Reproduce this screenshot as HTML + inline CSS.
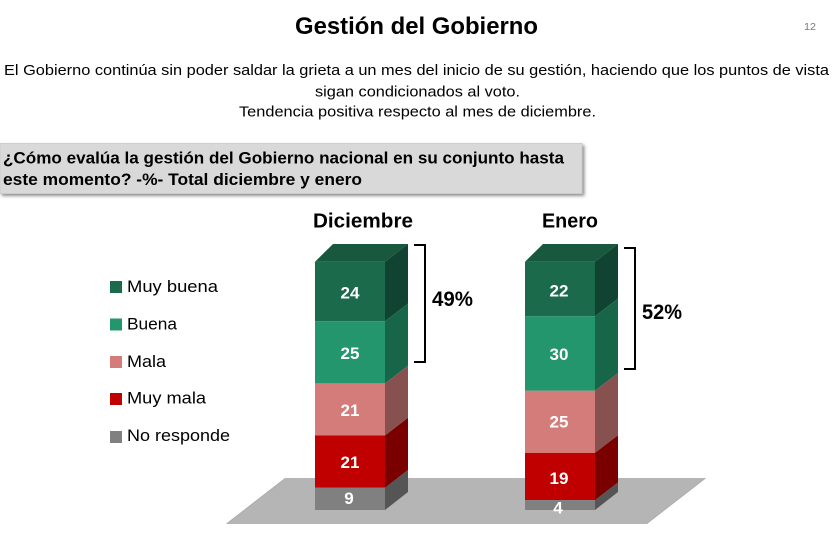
<!DOCTYPE html>
<html>
<head>
<meta charset="utf-8">
<style>
html,body{margin:0;padding:0;background:#fff;}
svg{display:block;}
text{font-family:"Liberation Sans",Arial,sans-serif;}
</style>
</head>
<body>
<svg width="832" height="545" viewBox="0 0 832 545" xmlns="http://www.w3.org/2000/svg">
  <defs>
    <filter id="sh" x="-5%" y="-20%" width="115%" height="160%">
      <feDropShadow dx="2" dy="2" stdDeviation="1.5" flood-color="#000" flood-opacity="0.45"/>
    </filter>
  </defs>

  <!-- Title -->
  <text x="295" y="34" font-size="24" font-weight="bold" fill="#000" textLength="243" lengthAdjust="spacingAndGlyphs">Gestión del Gobierno</text>
  <text x="804" y="30" font-size="10.5" fill="#777" textLength="12" lengthAdjust="spacingAndGlyphs">12</text>

  <!-- Subtitle -->
  <text x="4" y="75" font-size="15" fill="#000" textLength="825" lengthAdjust="spacingAndGlyphs">El Gobierno continúa sin poder saldar la grieta a un mes del inicio de su gestión, haciendo que los puntos de vista</text>
  <text x="315" y="96.5" font-size="15" fill="#000" textLength="205" lengthAdjust="spacingAndGlyphs">sigan condicionados al voto.</text>
  <text x="239" y="116.5" font-size="15" fill="#000" textLength="357" lengthAdjust="spacingAndGlyphs">Tendencia positiva respecto al mes de diciembre.</text>

  <!-- Question box -->
  <rect x="0" y="143.5" width="582" height="50" fill="#d9d9d9" stroke="#c8c8c8" stroke-width="0.8" filter="url(#sh)"/>
  <text x="3" y="163.5" font-size="17" font-weight="bold" fill="#000" textLength="561" lengthAdjust="spacingAndGlyphs">¿Cómo evalúa la gestión del Gobierno nacional en su conjunto hasta</text>
  <text x="3" y="185" font-size="17" font-weight="bold" fill="#000" textLength="359" lengthAdjust="spacingAndGlyphs">este momento? -%- Total diciembre y enero</text>

  <!-- Legend -->
  <rect x="110" y="281" width="12" height="12" fill="#1b6a4b"/>
  <text x="127" y="292" font-size="17" fill="#000" textLength="91" lengthAdjust="spacingAndGlyphs">Muy buena</text>
  <rect x="110" y="318.5" width="12" height="12" fill="#24966d"/>
  <text x="127" y="329.5" font-size="17" fill="#000" textLength="50" lengthAdjust="spacingAndGlyphs">Buena</text>
  <rect x="110" y="356" width="12" height="12" fill="#d47c79"/>
  <text x="127" y="367" font-size="17" fill="#000" textLength="39" lengthAdjust="spacingAndGlyphs">Mala</text>
  <rect x="110" y="393" width="12" height="12" fill="#c00000"/>
  <text x="127" y="403.5" font-size="17" fill="#000" textLength="79" lengthAdjust="spacingAndGlyphs">Muy mala</text>
  <rect x="110" y="431" width="12" height="12" fill="#808080"/>
  <text x="127" y="441" font-size="17" fill="#000" textLength="103" lengthAdjust="spacingAndGlyphs">No responde</text>

  <!-- Floor -->
  <polygon points="285,478.5 705,478.5 647,523.5 227,523.5" fill="#b5b5b5" stroke="#a9a9a9" stroke-width="0.8"/>

  <!-- Column headers -->
  <text x="313" y="227.5" font-size="20" font-weight="bold" fill="#000" textLength="100" lengthAdjust="spacingAndGlyphs">Diciembre</text>
  <text x="542" y="227.5" font-size="20" font-weight="bold" fill="#000" textLength="56" lengthAdjust="spacingAndGlyphs">Enero</text>

  <!-- Diciembre bar -->
  <g>
    <!-- top face -->
    <polygon points="315,261.7 385,261.7 408,244 333,244" fill="#17583f"/>
    <!-- Muy buena -->
    <rect x="315" y="261.7" width="70" height="59.6" fill="#1b6a4b"/>
    <polygon points="385,261.7 408,244 408,303.6 385,321.3" fill="#104331"/>
    <!-- Buena -->
    <rect x="315" y="321.3" width="70" height="62.1" fill="#24966d"/>
    <polygon points="385,321.3 408,303.6 408,365.7 385,383.4" fill="#17664a"/>
    <!-- Mala -->
    <rect x="315" y="383.4" width="70" height="52.1" fill="#d47c79"/>
    <polygon points="385,383.4 408,365.7 408,417.8 385,435.5" fill="#87514f"/>
    <!-- Muy mala -->
    <rect x="315" y="435.5" width="70" height="52.2" fill="#c00000"/>
    <polygon points="385,435.5 408,417.8 408,470 385,487.7" fill="#7a0000"/>
    <!-- No responde -->
    <rect x="315" y="487.7" width="70" height="22.3" fill="#808080"/>
    <polygon points="385,487.7 408,470 408,492 385,510" fill="#555555"/>

    <g font-size="17" font-weight="bold" fill="#fff" text-anchor="middle">
      <text x="350" y="298.5">24</text>
      <text x="350" y="359">25</text>
      <text x="350" y="416">21</text>
      <text x="350" y="468">21</text>
      <text x="349" y="504">9</text>
    </g>
  </g>

  <!-- Enero bar -->
  <g>
    <polygon points="525,261.7 595,261.7 618,244 543,244" fill="#17583f"/>
    <rect x="525" y="261.7" width="70" height="54.6" fill="#1b6a4b"/>
    <polygon points="595,261.7 618,244 618,298.6 595,316.3" fill="#104331"/>
    <rect x="525" y="316.3" width="70" height="74.5" fill="#24966d"/>
    <polygon points="595,316.3 618,298.6 618,373.1 595,390.8" fill="#17664a"/>
    <rect x="525" y="390.8" width="70" height="62.1" fill="#d47c79"/>
    <polygon points="595,390.8 618,373.1 618,435.2 595,452.9" fill="#87514f"/>
    <rect x="525" y="452.9" width="70" height="47.2" fill="#c00000"/>
    <polygon points="595,452.9 618,435.2 618,482.4 595,500.1" fill="#7a0000"/>
    <rect x="525" y="500.1" width="70" height="9.9" fill="#808080"/>
    <polygon points="595,500.1 618,482.4 618,492 595,510" fill="#555555"/>

    <g font-size="17" font-weight="bold" fill="#fff" text-anchor="middle">
      <text x="559" y="296.5">22</text>
      <text x="559" y="360">30</text>
      <text x="559" y="427.5">25</text>
      <text x="559" y="484">19</text>
      <text x="558" y="513.5">4</text>
    </g>
  </g>

  <!-- Brackets -->
  <polyline points="414,245 425,245 425,362 414,362" fill="none" stroke="#000" stroke-width="2"/>
  <text x="432" y="306" font-size="21" font-weight="bold" fill="#000" textLength="41" lengthAdjust="spacingAndGlyphs">49%</text>
  <polyline points="624,248 635,248 635,369 624,369" fill="none" stroke="#000" stroke-width="2"/>
  <text x="642" y="319" font-size="21" font-weight="bold" fill="#000" textLength="40" lengthAdjust="spacingAndGlyphs">52%</text>
</svg>
</body>
</html>
